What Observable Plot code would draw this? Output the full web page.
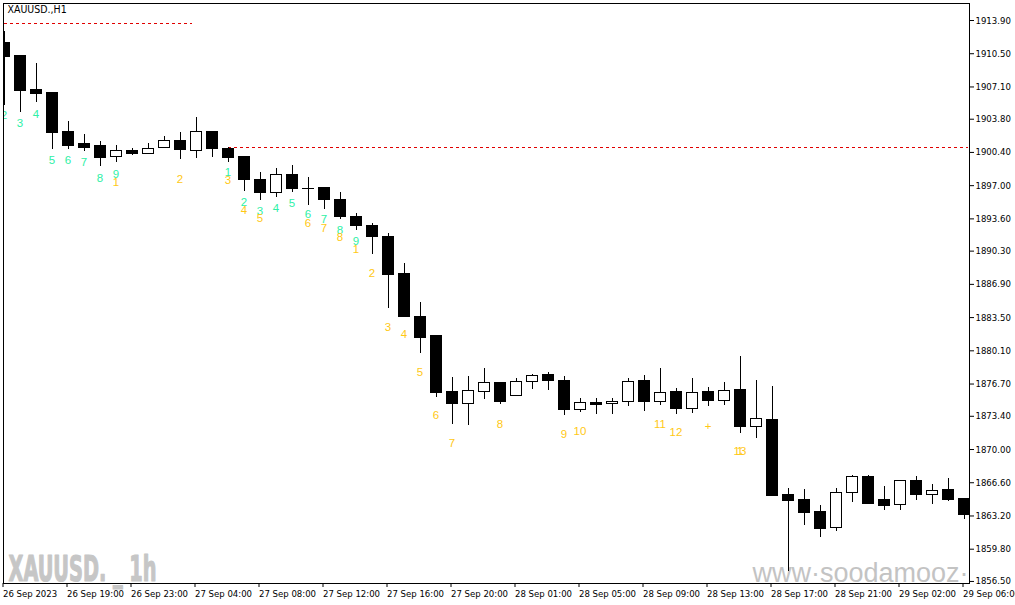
<!DOCTYPE html>
<html>
<head>
<meta charset="utf-8">
<script src="https://cdn.jsdelivr.net/npm/d3@7"></script>
<script src="https://cdn.jsdelivr.net/npm/@observablehq/plot@0.6"></script>
<style>
  html, body { margin: 0; padding: 0; background: #ffffff; }
  #chart svg { display: block; }
</style>
</head>
<body>
<div id="chart"></div>
<script>
// ---- data (hourly bars, XAUUSD H1) ----
const opens  = [1911.60,1910.22,1906.77,1906.46,1902.44,1901.31,1901.04,1899.91,1900.50,1900.22,
                1900.83,1901.52,1900.53,1902.51,1900.80,1899.91,1897.63,1896.23,1898.14,1896.70,
                1896.71,1895.58,1893.84,1892.92,1891.70,1887.91,1883.61,1881.57,1875.84,1874.68,
                1875.91,1876.76,1875.46,1876.89,1877.58,1877.06,1874.07,1874.81,1874.68,1874.89,
                1877.06,1874.89,1875.84,1874.17,1875.84,1874.95,1876.04,1872.28,1872.97,1865.30,
                1864.79,1863.56,1861.99,1865.57,1867.14,1864.79,1864.34,1866.73,1865.37,1865.81,
                1864.89];
const highs  = [1912.77,1910.25,1909.47,1906.56,1903.57,1902.24,1901.52,1901.11,1900.80,1901.28,
                1902.03,1902.44,1903.97,1902.51,1900.90,1899.91,1898.35,1898.76,1899.06,1897.84,
                1896.71,1896.30,1894.15,1893.13,1892.10,1889.04,1885.05,1881.57,1877.37,1877.47,
                1878.29,1876.86,1877.24,1877.68,1877.88,1877.47,1875.22,1875.19,1875.22,1877.27,
                1877.61,1878.29,1876.24,1877.27,1876.35,1876.86,1879.52,1877.06,1876.45,1866.01,
                1865.91,1864.25,1866.01,1867.34,1867.34,1866.22,1866.73,1867.24,1866.38,1867.04,
                1864.89];
const lows   = [1905.20,1904.52,1905.54,1900.70,1900.70,1900.53,1899.00,1899.40,1900.10,1900.22,
                1900.83,1899.68,1899.81,1899.91,1899.40,1896.43,1895.48,1895.82,1896.33,1894.97,
                1894.58,1893.54,1892.41,1889.99,1884.46,1883.54,1879.80,1875.35,1872.59,1872.49,
                1875.15,1874.56,1875.46,1876.17,1876.07,1873.51,1873.79,1873.60,1873.60,1874.43,
                1873.92,1874.54,1873.62,1873.72,1874.43,1874.54,1871.67,1871.13,1865.23,1857.55,
                1862.26,1860.97,1861.58,1864.61,1864.41,1863.79,1863.79,1864.82,1864.41,1864.65,
                1862.87];
const closes = [1910.15,1906.67,1906.33,1902.37,1901.10,1900.90,1899.81,1900.50,1900.22,1900.80,
                1901.52,1900.63,1902.51,1900.73,1899.81,1897.60,1896.23,1898.14,1896.64,1896.62,
                1895.51,1893.77,1892.85,1891.73,1887.81,1883.54,1881.39,1875.76,1874.64,1876.01,
                1876.76,1874.84,1876.93,1877.54,1876.99,1874.03,1874.81,1874.54,1874.91,1876.93,
                1874.84,1875.74,1874.13,1875.81,1874.95,1876.01,1872.28,1873.14,1865.23,1864.72,
                1863.49,1861.85,1865.60,1867.21,1864.41,1864.20,1866.73,1865.33,1865.78,1864.82,
                1863.28];

// time axis labels (every 4th bar)
const timeTickBars = [0,4,8,12,16,20,24,28,32,36,40,44,48,52,56,60];
const timeTickLabels = ["26 Sep 2023","26 Sep 19:00","26 Sep 23:00","27 Sep 04:00","27 Sep 08:00",
  "27 Sep 12:00","27 Sep 16:00","27 Sep 20:00","28 Sep 01:00","28 Sep 05:00","28 Sep 09:00",
  "28 Sep 13:00","28 Sep 17:00","28 Sep 21:00","29 Sep 02:00","29 Sep 06:00"];

// price axis labels
const priceTicks = [1913.90,1910.50,1907.10,1903.80,1900.40,1897.00,1893.60,1890.30,1886.90,
  1883.50,1880.10,1876.70,1873.40,1870.00,1866.60,1863.20,1859.80,1856.50];

// setup count labels (green) – bar, text, price level of label
const greenBars   = [0,1,2,3,4,5,6,7,14,15,16,17,18,19,20,21,22];
const greenTexts  = ["2","3","4","5","6","7","8","9","1","2","3","4","5","6","7","8","9"];
const greenPrices = [1904.18,1903.43,1904.35,1899.57,1899.57,1899.34,1897.80,1898.21,1898.32,
                     1895.25,1894.39,1894.73,1895.21,1894.05,1893.51,1892.48,1891.32];

// countdown labels (yellow)
const yellowBars   = [7,11,14,15,16,19,20,21,22,23,24,25,26,27,28,31,35,36,41,42,44,46,46];
const yellowTexts  = ["1","2","3","4","5","6","7","8","1","2","3","4","5","6","7","8","9","10",
                      "11","12","+","13","1"];
const yellowPrices = [1897.35,1897.70,1897.53,1894.46,1893.61,1893.10,1892.65,1891.67,1890.44,
                      1887.98,1882.52,1881.74,1877.85,1873.48,1870.65,1872.63,1871.51,1871.85,
                      1872.63,1871.71,1872.42,1869.80,1869.80];

// dashed support/resistance levels
const levelPrices = [1913.56, 1900.90];
const levelStart  = [0, 14];
const levelEnd    = [11.8, 60.3];

// ---- build tables ----
const bars = opens.map((o, i) => ({
  i, open: o, high: highs[i], low: lows[i], close: closes[i], up: closes[i] >= o
}));
const greens = greenBars.map((b, k) => ({bar: b, text: greenTexts[k], price: greenPrices[k]}));
const yellows = yellowBars.map((b, k) => ({bar: b, text: yellowTexts[k], price: yellowPrices[k]}));
const levels = levelPrices.map((p, k) => ({price: p, x1: levelStart[k], x2: levelEnd[k]}));
const tickLabelOf = new Map(timeTickBars.map((b, k) => [b, timeTickLabels[k]]));

const half = 0.34375; // half body width in bar units

const W = 1015, H = 605;
const mL = 3, mR = 46, mT = 3, mB = 22;
const pxPerBar = 16;
const x0 = (mL - 3.5) / pxPerBar;
const x1 = x0 + (W - mL - mR) / pxPerBar;

const labelFont = "'Liberation Sans', Arial, sans-serif";

const chart = Plot.plot({
  width: W,
  height: H,
  marginLeft: mL,
  marginRight: mR,
  marginTop: mT,
  marginBottom: mB,
  style: {fontFamily: "'DejaVu Sans Condensed', 'DejaVu Sans', sans-serif", fontSize: "9px", background: "#ffffff", color: "#000"},
  x: {type: "linear", domain: [x0, x1], axis: null},
  y: {domain: [1856.29, 1915.64], axis: null},
  marks: [
    // watermarks
    Plot.text(["www·soodamooz·com"], {frameAnchor: "bottom-left", dx: 749, dy: -2, fill: "#c3c3c3",
      fontSize: 27, fontFamily: labelFont, lineAnchor: "bottom", textAnchor: "start", clip: true}),
    Plot.text(["XAUUSD. _ 1h"], {frameAnchor: "bottom-left", dx: 5, dy: -3, fill: "#c6c6c6",
      fontSize: 35, fontWeight: "bold", fontFamily: "'DejaVu Sans Condensed', 'DejaVu Sans', sans-serif",
      lineAnchor: "bottom", textAnchor: "start", stroke: "#c6c6c6", strokeWidth: 1.2}),
    // symbol title
    Plot.text(["XAUUSD.,H1"], {frameAnchor: "top-left", dx: 4, dy: 2, fill: "#000", fontSize: 10.5,
      lineAnchor: "top", textAnchor: "start"}),
    // dashed levels
    Plot.ruleY(levels, {y: "price", x1: "x1", x2: "x2", stroke: "#e00000", strokeDasharray: "3,3",
      strokeWidth: 1, clip: true, shapeRendering: "crispEdges"}),
    // wicks
    Plot.ruleX(bars, {x: "i", y1: "low", y2: "high", stroke: "#000", strokeWidth: 1, clip: true, shapeRendering: "crispEdges"}),
    // bodies
    Plot.rect(bars, {
      x1: d => d.i - half, x2: d => d.i + half,
      y1: "open", y2: "close",
      fill: d => d.up ? "#ffffff" : "#000000",
      stroke: "#000", strokeWidth: 1, clip: true, shapeRendering: "crispEdges"
    }),
    // count labels
    Plot.text(greens, {x: "bar", y: "price", text: "text", fill: "#2ef0a6", fontSize: 11.5,
      fontFamily: labelFont, clip: true}),
    Plot.text(yellows, {x: "bar", y: "price", text: "text", fill: "#ffc814", fontSize: 11.5,
      fontFamily: labelFont, clip: true}),
    Plot.frame({stroke: "#000", strokeWidth: 1, shapeRendering: "crispEdges"}),
    Plot.axisY(priceTicks, {anchor: "right", tickSize: 4, tickPadding: 2, label: null,
      tickFormat: d => d.toFixed(2), fontSize: 9.5}),
    Plot.axisX(timeTickBars, {anchor: "bottom", tickSize: 4, tickPadding: 3, label: null,
      tickFormat: d => tickLabelOf.get(d), textAnchor: "start", dx: -1, fontSize: 9.5})
  ]
});

document.getElementById("chart").appendChild(chart);

// condense symbol watermark to its measured width
d3.select(chart).selectAll("text").each(function() {
  if (this.textContent === "XAUUSD. _ 1h") {
    this.setAttribute("textLength", "148");
    this.setAttribute("lengthAdjust", "spacingAndGlyphs");
  }
});
</script>
</body>
</html>
